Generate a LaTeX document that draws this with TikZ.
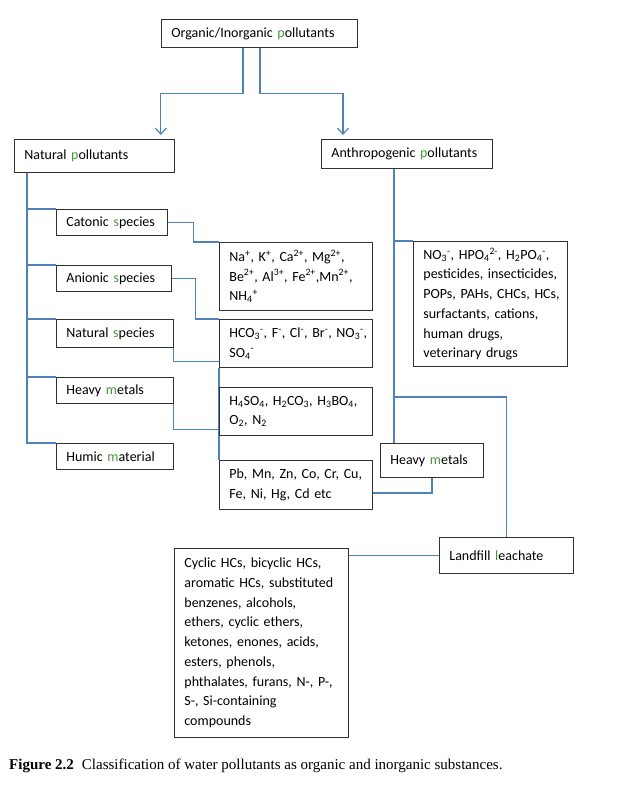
\documentclass[tikz,border=0pt]{standalone}
\usepackage{fontspec}
\setmainfont{Carlito}
\newfontfamily\capfont{Liberation Serif}
\usetikzlibrary{calc,arrows.meta}
\definecolor{linec}{RGB}{79,129,189}
\definecolor{boxc}{RGB}{50,50,50}
\definecolor{grn}{RGB}{70,150,60}
\newcommand\gr[1]{\textcolor{grn}{#1}}
\newcommand\up[1]{\textsuperscript{#1}}
\newcommand\dn[1]{\textsubscript{#1}}
\newcommand\sbp[2]{\textsubscript{#1}\textsuperscript{#2}}
\newcommand\lin[1]{\mbox{#1}}
\pgfdeclarelayer{bg}
\pgfdeclarelayer{lines}
\pgfsetlayers{bg,lines,main}
\begin{document}
\begin{tikzpicture}[x=1pt,y=-1pt,
  box/.style={draw=boxc, line width=0.8pt, inner xsep=10pt, inner ysep=0pt, align=left, anchor=north west, font=\fontsize{14}{19.7}\selectfont},
  conn/.style={draw=linec, line width=1.2pt},
  arr/.style={conn, -{Straight Barb[length=6pt,width=11pt,line width=1.2pt]}}]
\begin{pgfonlayer}{bg}
\fill[white] (0,0) rectangle (629,785);
\end{pgfonlayer}
\useasboundingbox (0,0) rectangle (629,785);

\node[box, text width=176pt, minimum height=28pt] (top) at (161,19) {Organic/Inorganic \gr{p}ollutants};
\node[box, text width=140pt, minimum height=33pt] (nat) at (14,139) {Natural \gr{p}ollutants};
\node[box, text width=151pt, minimum height=29pt] (ant) at (321,139) {Anthropogenic \gr{p}ollutants};

\node[box, text width=91pt, minimum height=26pt] (cat) at (56,209) {Catonic \gr{s}pecies};
\node[box, text width=95pt, minimum height=26pt] (ani) at (56,265) {Anionic \gr{s}pecies};
\node[box, text width=97pt, minimum height=28pt] (nsp) at (56,319) {Natural \gr{s}pecies};
\node[box, text width=97pt, minimum height=26pt] (hml) at (56,377) {Heavy \gr{m}etals};
\node[box, text width=97pt, minimum height=26pt] (hum) at (56,443) {Humic \gr{m}aterial};

\node[box, text width=133pt, minimum height=68pt] (na) at (219,242) {\lin{Na\up{+}, K\up{+}, Ca\up{2+}, Mg\up{2+},}\\ \lin{Be\up{2+}, Al\up{3+}, Fe\up{2+},Mn\up{2+},}\\ \lin{NH\sbp{4}{+}}};
\node[box, text width=133pt, minimum height=48pt] (hco) at (219,319) {\lin{HCO\sbp{3}{-}, F\up{-}, Cl\up{-}, Br\up{-}, NO\sbp{3}{-},}\\ \lin{SO\sbp{4}{-}}};
\node[box, text width=133pt, minimum height=48pt] (h4) at (219,387) {\lin{H\dn{4}SO\dn{4}, H\dn{2}CO\dn{3}, H\dn{3}BO\dn{4},}\\ \lin{O\dn{2}, N\dn{2}}};
\node[box, text width=133pt, minimum height=49pt] (pb) at (219,460) {\lin{Pb, Mn, Zn, Co, Cr, Cu,}\\ \lin{Fe, Ni, Hg, Cd etc}};

\node[box, text width=134pt, minimum height=125pt] (no3) at (413,241) {\lin{NO\sbp{3}{-}, HPO\sbp{4}{2-}, H\dn{2}PO\sbp{4}{-},}\\ \lin{pesticides, insecticides,}\\ \lin{POPs, PAHs, CHCs, HCs,}\\ \lin{surfactants, cations,}\\ \lin{human drugs,}\\ \lin{veterinary drugs}};
\node[box, text width=83pt, minimum height=34pt] (hmr) at (380,443) {Heavy \gr{m}etals};
\node[box, text width=114pt, minimum height=36pt] (lf) at (439,537) {Landfill \gr{l}eachate};
\node[box, text width=154pt, minimum height=189pt] (cyc) at (174,548) {\lin{Cyclic HCs, bicyclic HCs,}\\ \lin{aromatic HCs, substituted}\\ \lin{benzenes, alcohols,}\\ \lin{ethers, cyclic ethers,}\\ \lin{ketones, enones, acids,}\\ \lin{esters, phenols,}\\ \lin{phthalates, furans, N-, P-,}\\ \lin{S-, Si-containing}\\ \lin{compounds}};

\node[anchor=base west, inner sep=0pt, font=\capfont\fontsize{15}{18}\selectfont] (cap) at (9,769) {\textbf{Figure 2.2}\hspace{8pt}Classification of water pollutants as organic and inorganic substances.};

\begin{pgfonlayer}{lines}
\draw[arr] ($(top.south west)+(82,0)$) -- ++(0,46) -| ($(nat.north east)+(-14,-4)$);
\draw[arr] ($(top.south west)+(99,0)$) -- ++(0,46) -| ($(ant.north west)+(22,-4)$);

\coordinate (lt) at ($(nat.south west)+(13,0)$);
\draw[conn] (lt) |- (hum.north west);
\foreach \n in {cat,ani,nsp,hml} \draw[conn] (lt |- \n.north west) -- (\n.north west);

\draw[conn] (cat.east) -- ++(26,0) |- (na.north west);
\draw[conn] (ani.east) -- ++(24,0) |- (hco.north west);
\draw[conn] (nsp.east) |- ($(hco.south west)+(0,-6)$);
\draw[conn] (hml.east) |- ($(h4.south west)+(0,-6)$);
\draw[conn] (hco.south west) -- (pb.north west);
\draw[conn] ($(pb.east)+(0,8)$) -| (hmr.south);

\coordinate (rt) at ($(ant.south west)+(73,0)$);
\coordinate (lvl) at (0,397);
\draw[conn] (rt) -- (rt |- hmr.north);
\draw[conn] (rt |- no3.north west) -- (no3.north west);
\draw[conn] (rt |- lvl) -| (lf.north);
\draw[conn] (lf.west) -- (lf.west -| cyc.east);
\end{pgfonlayer}
\end{tikzpicture}
\end{document}
